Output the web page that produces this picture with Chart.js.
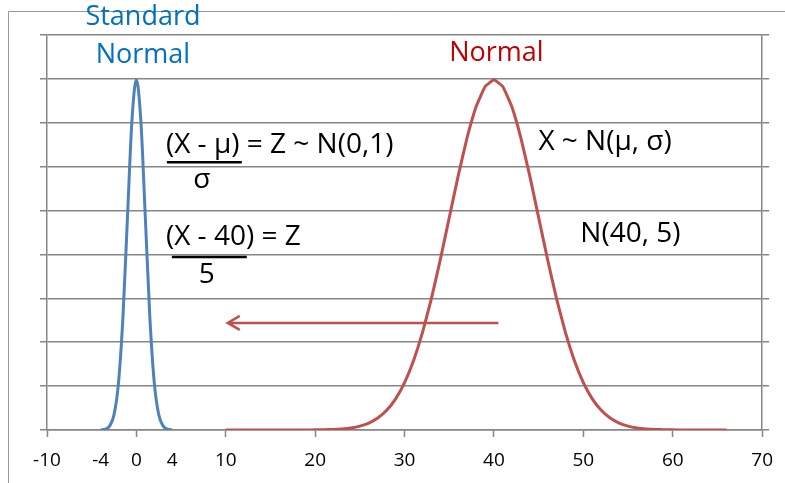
<!DOCTYPE html>
<html>
<head>
<meta charset="utf-8">
<script src="https://cdn.jsdelivr.net/npm/chart.js@4"></script>
<style>
  html, body { margin: 0; padding: 0; background: #fff; overflow: hidden; }
</style>
</head>
<body>
<canvas id="normals" width="785" height="483"></canvas>
<script>
// standard normal
const stdX = [-4, -3.5, -3, -2.5, -2, -1.5, -1, -0.5, 0, 0.5, 1, 1.5, 2, 2.5, 3, 3.5, 4];
const stdY = [0.0001, 0.0009, 0.0044, 0.0175, 0.054, 0.1295, 0.242, 0.3521, 0.3989,
              0.3521, 0.242, 0.1295, 0.054, 0.0175, 0.0044, 0.0009, 0.0001];

// N(40, 5) (secondary axis)
const normX = [10, 11, 12, 13, 14, 15, 16, 17, 18, 19, 20, 21, 22, 23, 24, 25, 26, 27, 28, 29,
               30, 31, 32, 33, 34, 35, 36, 37, 38, 39, 40, 41, 42, 43, 44, 45, 46, 47, 48, 49,
               50, 51, 52, 53, 54, 55, 56, 57, 58, 59, 60, 61, 62, 63, 64, 65, 66];
const normY = [0, 0, 0, 0, 0, 0, 0, 0, 0, 0,
               0.00003, 0.00006, 0.00012, 0.00025, 0.00048, 0.00089, 0.00158, 0.00272, 0.00448, 0.00709,
               0.0108, 0.01579, 0.02218, 0.02995, 0.03884, 0.04839, 0.05794, 0.06664, 0.07365, 0.07821,
               0.07979, 0.07821, 0.07365, 0.06664, 0.05794, 0.04839, 0.03884, 0.02995, 0.02218, 0.01579,
               0.0108, 0.00709, 0.00448, 0.00272, 0.00158, 0.00089, 0.00048, 0.00025, 0.00012, 0.00006,
               0.00003, 0, 0, 0, 0, 0, 0];

const xTicks = [-10, -4, 0, 4, 10, 20, 30, 40, 50, 60, 70];

const AXIS = '#868686';
const FONT = '"Open Sans"';

// text put on the chart, in data units of x / left y axis
const notes = [
    {text: 'Standard', x: 0.73, y: 0.4705, color: '#0070C0', size: 27, align: 'center'},
    {text: 'Normal', x: 0.73, y: 0.427, color: '#0070C0', size: 27, align: 'center'},
    {text: 'Normal', x: 40.28, y: 0.4295, color: '#C00000', size: 27, align: 'center'},
    {text: '(X - \u03bc) = Z ~ N(0,1)', x: 3.3, y: 0.3247, color: '#000', size: 28, align: 'left'},
    {text: '\u03c3', x: 7.32, y: 0.2848, color: '#000', size: 28, align: 'center'},
    {text: '(X - 40) = Z', x: 3.3, y: 0.2204, color: '#000', size: 28, align: 'left'},
    {text: '5', x: 7.88, y: 0.1766, color: '#000', size: 28, align: 'center'},
    {text: 'X ~ N(\u03bc, \u03c3)', x: 44.97, y: 0.328, color: '#000', size: 28, align: 'left'},
    {text: 'N(40, 5)', x: 49.66, y: 0.2238, color: '#000', size: 28, align: 'left'}
];
const bars = [
    {x1: 3.41, x2: 11.79, y: 0.305},
    {x1: 3.97, x2: 12.35, y: 0.197}
];
const arrow = {x1: 40.5, x2: 10.22, y: 0.122};

const decor = {
    id: 'decor',
    beforeDraw(chart) {
        const c = chart.ctx;
        c.save();
        c.strokeStyle = '#999';
        c.lineWidth = 1;
        c.beginPath();
        c.moveTo(8.5, chart.height);
        c.lineTo(8.5, 11.5);
        c.lineTo(chart.width, 11.5);
        c.stroke();
        c.restore();
    },
    afterDraw(chart) {
        const c = chart.ctx;
        const sx = chart.scales.x, sy = chart.scales.y;
        c.save();
        c.textBaseline = 'middle';
        notes.forEach(n => {
            c.font = n.size + 'px ' + FONT;
            c.fillStyle = n.color;
            c.textAlign = n.align;
            c.fillText(n.text, sx.getPixelForValue(n.x), sy.getPixelForValue(n.y));
        });
        c.strokeStyle = '#000';
        c.lineWidth = 2.5;
        bars.forEach(b => {
            const y = sy.getPixelForValue(b.y);
            c.beginPath();
            c.moveTo(sx.getPixelForValue(b.x1), y);
            c.lineTo(sx.getPixelForValue(b.x2), y);
            c.stroke();
        });
        const ax1 = sx.getPixelForValue(arrow.x1), ax2 = sx.getPixelForValue(arrow.x2);
        const ay = sy.getPixelForValue(arrow.y);
        c.strokeStyle = '#C0504D';
        c.lineWidth = 2.5;
        c.beginPath();
        c.moveTo(ax1, ay);
        c.lineTo(ax2, ay);
        c.moveTo(ax2 + 12, ay - 7);
        c.lineTo(ax2, ay);
        c.lineTo(ax2 + 12, ay + 7);
        c.stroke();
        c.restore();
    }
};

const chart = new Chart(document.getElementById('normals'), {
    type: 'line',
    data: {
        datasets: [{
            label: 'Standard Normal',
            data: stdX.map((v, i) => ({x: v, y: stdY[i]})),
            borderColor: '#4F81BD',
            borderWidth: 3,
            pointRadius: 0,
            cubicInterpolationMode: 'monotone',
            yAxisID: 'y'
        }, {
            label: 'Normal',
            data: normX.map((v, i) => ({x: v, y: normY[i]})),
            borderColor: '#C0504D',
            borderWidth: 3,
            pointRadius: 0,
            tension: 0.1,
            yAxisID: 'y2'
        }]
    },
    options: {
        responsive: false,
        animation: false,
        layout: {padding: {left: 40, right: 15, top: 35, bottom: 0}},
        plugins: {legend: {display: false}, tooltip: {enabled: false}},
        scales: {
            x: {
                type: 'linear',
                min: -10,
                max: 70,
                afterBuildTicks: s => { s.ticks = xTicks.map(v => ({value: v})); },
                afterFit: s => { s.height = 53; },
                ticks: {
                    autoSkip: false,
                    maxRotation: 0,
                    padding: 12,
                    color: '#000',
                    font: {family: FONT, size: 19},
                    callback: v => String(v)
                },
                grid: {
                    drawOnChartArea: false,
                    tickLength: 7,
                    tickWidth: 1.5,
                    tickColor: c => (c.tick && c.tick.value % 10 === 0) ? AXIS : 'rgba(0,0,0,0)'
                },
                border: {color: AXIS, width: 1.5}
            },
            y: {
                position: 'left',
                min: 0,
                max: 0.45,
                afterFit: s => { s.width = 7; },
                ticks: {display: false, stepSize: 0.05},
                grid: {color: AXIS, lineWidth: 1.5, tickLength: 7},
                border: {color: AXIS, width: 1.5}
            },
            y2: {
                position: 'right',
                min: 0,
                max: 0.09,
                afterFit: s => { s.width = 7; },
                ticks: {display: false, stepSize: 0.01},
                grid: {drawOnChartArea: false, color: AXIS, lineWidth: 1.5, tickLength: 7},
                border: {color: AXIS, width: 1.5}
            }
        }
    },
    plugins: [decor]
});
</script>
</body>
</html>
